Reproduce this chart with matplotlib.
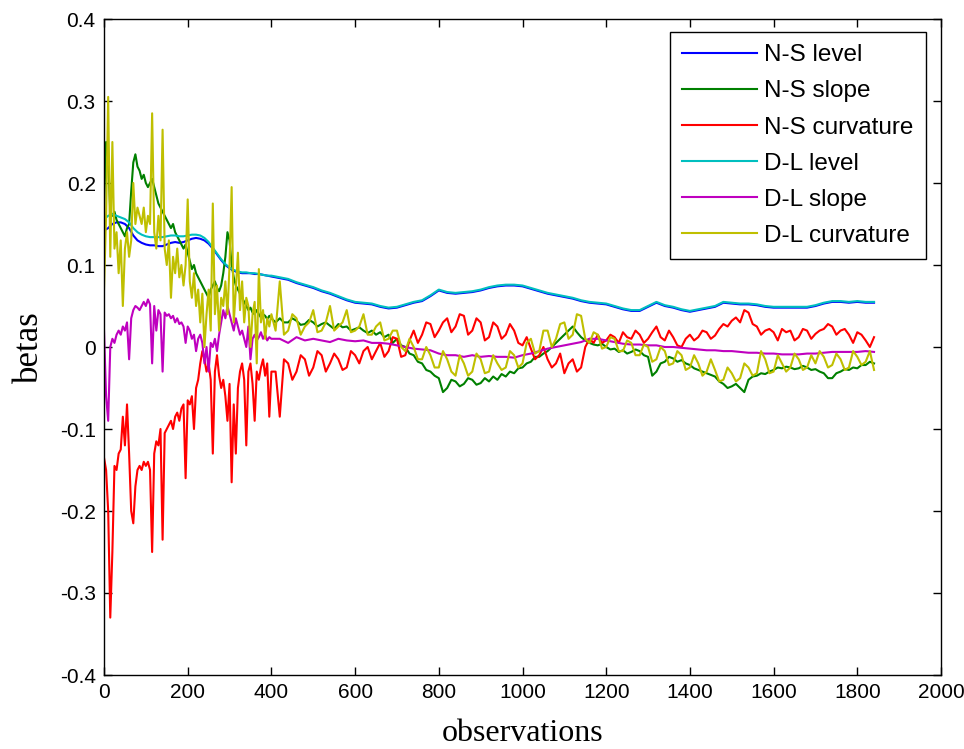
import numpy as np
import matplotlib
matplotlib.use("Agg")
import matplotlib.pyplot as plt

# =====================
# DATA
# =====================

# observation grids
obs_level = np.concatenate([np.arange(0, 401, 10), np.arange(420, 1841, 20)])
obs_slope = np.concatenate([np.arange(0, 401, 5), np.arange(420, 1841, 20)])
obs_noisy = np.concatenate([np.arange(0, 401, 5), np.arange(410, 1841, 10)])

ns_level = [
    0.142, 0.145, 0.150, 0.152, 0.152, 0.150, 0.145, 0.136, 0.130, 0.127,
    0.125, 0.124, 0.124, 0.123, 0.123, 0.125, 0.127, 0.128, 0.127, 0.128,
    0.130, 0.132, 0.133, 0.132, 0.130, 0.126, 0.120, 0.113, 0.106, 0.100,
    0.096, 0.093, 0.091, 0.090, 0.090, 0.090, 0.089, 0.089, 0.088, 0.087,
    0.086,
    0.084, 0.082, 0.078, 0.075, 0.072, 0.068, 0.065, 0.061, 0.057, 0.054,
    0.053, 0.052, 0.049, 0.047, 0.048, 0.051, 0.054, 0.056, 0.062, 0.069,
    0.066, 0.065, 0.066, 0.067, 0.069, 0.072, 0.074, 0.075, 0.075, 0.074,
    0.071, 0.068, 0.065, 0.063, 0.061, 0.059, 0.056, 0.054, 0.053, 0.052,
    0.049, 0.046, 0.044, 0.044, 0.049, 0.054, 0.050, 0.048, 0.045, 0.043,
    0.045, 0.047, 0.049, 0.054, 0.053, 0.052, 0.052, 0.051, 0.049, 0.048,
    0.048, 0.048, 0.048, 0.048, 0.050, 0.053, 0.055, 0.055, 0.054, 0.055,
    0.054, 0.054,
]

dl_level = [
    0.156, 0.160, 0.162, 0.160, 0.158, 0.156, 0.152, 0.145, 0.140, 0.137,
    0.135, 0.134, 0.134, 0.134, 0.134, 0.135, 0.136, 0.136, 0.135, 0.135,
    0.136, 0.137, 0.137, 0.136, 0.133, 0.128, 0.121, 0.114, 0.107, 0.101,
    0.097, 0.094, 0.092, 0.091, 0.091, 0.090, 0.090, 0.089, 0.088, 0.087,
    0.087,
    0.085, 0.083, 0.079, 0.076, 0.073, 0.069, 0.066, 0.062, 0.058, 0.055,
    0.054, 0.053, 0.050, 0.048, 0.049, 0.052, 0.055, 0.057, 0.063, 0.070,
    0.067, 0.066, 0.067, 0.068, 0.070, 0.073, 0.075, 0.076, 0.076, 0.075,
    0.072, 0.069, 0.066, 0.064, 0.062, 0.060, 0.057, 0.055, 0.054, 0.053,
    0.050, 0.047, 0.045, 0.045, 0.050, 0.055, 0.051, 0.049, 0.046, 0.044,
    0.046, 0.048, 0.050, 0.055, 0.054, 0.053, 0.053, 0.052, 0.050, 0.049,
    0.049, 0.049, 0.049, 0.049, 0.051, 0.054, 0.056, 0.056, 0.055, 0.056,
    0.055, 0.055,
]

ns_slope = [
    # 0 .. 400, every 5
    0.170, 0.250, 0.230, 0.165, 0.160, 0.165, 0.155, 0.150, 0.145, 0.140,
    0.135, 0.145, 0.150, 0.190, 0.225, 0.235, 0.220, 0.215, 0.205, 0.210,
    0.200, 0.195, 0.200, 0.205, 0.195, 0.185, 0.175, 0.170, 0.165, 0.160,
    0.155, 0.150, 0.145, 0.150, 0.140, 0.135, 0.130, 0.125, 0.120, 0.125,
    0.115, 0.105, 0.095, 0.100, 0.090, 0.085, 0.080, 0.075, 0.070, 0.065,
    0.060, 0.070, 0.075, 0.080, 0.072, 0.068, 0.075, 0.090, 0.110, 0.140,
    0.130, 0.100, 0.085, 0.075, 0.070, 0.065, 0.060, 0.055, 0.050, 0.045,
    0.048, 0.042, 0.040, 0.045, 0.040, 0.036, 0.040, 0.038, 0.034, 0.038,
    0.035,
    # 410 .. 1840, every 10
    0.030, 0.035, 0.030, 0.030, 0.035, 0.032, 0.027, 0.028, 0.033, 0.030,
    0.025, 0.028, 0.030, 0.026, 0.022, 0.028, 0.024, 0.025, 0.020, 0.022,
    0.024, 0.020, 0.017, 0.020, 0.015, 0.018, 0.012, 0.015, 0.005, 0.010,
    0.002, 0.000, -0.008, -0.010, -0.018, -0.020, -0.028, -0.030, -0.035, -0.038,
    -0.055, -0.050, -0.040, -0.042, -0.048, -0.045, -0.038, -0.040, -0.046, -0.044,
    -0.038, -0.042, -0.036, -0.040, -0.033, -0.036, -0.030, -0.032, -0.026, -0.025,
    -0.020, -0.018, -0.012, -0.012, -0.008, -0.005, 0.000, 0.005, 0.010, 0.015,
    0.020, 0.025, 0.018, 0.012, 0.008, 0.005, 0.003, 0.002, 0.004, 0.000,
    -0.003, -0.002, -0.006, -0.004, -0.008, -0.006, -0.003, -0.005, -0.010, -0.012,
    -0.035, -0.030, -0.020, -0.018, -0.012, -0.014, -0.018, -0.016, -0.020, -0.022,
    -0.026, -0.028, -0.030, -0.032, -0.034, -0.036, -0.042, -0.045, -0.050, -0.048,
    -0.045, -0.050, -0.055, -0.040, -0.036, -0.035, -0.032, -0.033, -0.030, -0.028,
    -0.025, -0.026, -0.024, -0.025, -0.027, -0.026, -0.023, -0.025, -0.028, -0.027,
    -0.030, -0.032, -0.038, -0.038, -0.032, -0.030, -0.027, -0.028, -0.025, -0.026,
    -0.022, -0.022, -0.018, -0.020,
]

ns_curv = [
    # 0 .. 400, every 5
    -0.135, -0.150, -0.200, -0.330, -0.250, -0.145, -0.150, -0.130, -0.125, -0.085,
    -0.120, -0.070, -0.130, -0.200, -0.215, -0.170, -0.150, -0.145, -0.150, -0.140,
    -0.145, -0.140, -0.150, -0.250, -0.130, -0.115, -0.120, -0.100, -0.235, -0.105,
    -0.100, -0.095, -0.090, -0.100, -0.085, -0.080, -0.090, -0.075, -0.070, -0.160,
    -0.065, -0.070, -0.060, -0.100, -0.050, -0.040, -0.020, -0.005, -0.015, -0.030,
    -0.020, -0.040, -0.130, -0.030, -0.010, -0.035, -0.050, -0.040, -0.060, -0.090,
    -0.045, -0.165, -0.070, -0.130, -0.050, -0.030, -0.020, -0.040, -0.120, -0.030,
    -0.020, -0.045, -0.090, -0.030, -0.040, -0.025, -0.015, -0.035, -0.020, -0.085,
    -0.030,
    # 410 .. 1840, every 10
    -0.030, -0.085, -0.015, -0.020, -0.040, -0.030, -0.010, -0.015, -0.035, -0.025,
    -0.005, -0.010, -0.030, -0.020, -0.008, -0.015, -0.028, -0.025, -0.005, -0.010,
    -0.020, -0.005, 0.000, -0.015, -0.005, 0.005, -0.012, -0.005, 0.012, 0.010,
    -0.012, -0.010, 0.008, 0.020, 0.005, 0.015, 0.030, 0.028, 0.012, 0.020,
    0.030, 0.035, 0.018, 0.025, 0.040, 0.038, 0.015, 0.020, 0.035, 0.030,
    0.008, 0.012, 0.030, 0.025, 0.010, 0.015, 0.028, 0.020, 0.005, 0.002,
    0.012, -0.002, -0.015, -0.010, 0.000, -0.015, -0.025, -0.020, -0.008, -0.032,
    -0.020, -0.015, -0.030, -0.025, 0.000, 0.010, 0.005, 0.015, 0.005, 0.008,
    0.015, 0.012, 0.005, 0.018, 0.012, 0.010, 0.020, 0.015, 0.005, 0.010,
    0.018, 0.025, 0.012, 0.008, 0.020, 0.012, 0.002, 0.000, 0.010, 0.015,
    0.008, 0.012, 0.020, 0.018, 0.010, 0.014, 0.022, 0.028, 0.025, 0.032,
    0.036, 0.030, 0.045, 0.042, 0.028, 0.025, 0.015, 0.020, 0.022, 0.018,
    0.008, 0.022, 0.018, 0.020, 0.008, 0.012, 0.022, 0.020, 0.010, 0.016,
    0.020, 0.022, 0.028, 0.025, 0.015, 0.020, 0.022, 0.015, 0.005, 0.018,
    0.015, 0.008, 0.000, 0.012,
]

dl_slope = [
    # 0 .. 400, every 5
    0.020, -0.060, -0.090, 0.000, 0.010, 0.005, 0.015, 0.020, 0.015, 0.025,
    0.020, 0.030, -0.015, 0.035, 0.045, 0.050, 0.048, 0.045, 0.050, 0.055,
    0.050, 0.058, 0.052, -0.020, 0.050, 0.020, 0.045, 0.040, -0.030, 0.042,
    0.038, 0.040, 0.035, 0.038, 0.030, 0.035, 0.028, 0.030, 0.025, 0.005,
    0.025, 0.020, 0.010, 0.015, -0.005, 0.010, 0.015, 0.005, -0.020, 0.000,
    -0.030, 0.005, 0.000, 0.010, -0.005, 0.015, 0.030, 0.045, 0.035, 0.050,
    0.040, 0.030, 0.020, 0.035, 0.025, 0.015, 0.020, 0.010, 0.000, 0.025,
    -0.015, 0.010, 0.015, 0.008, 0.012, 0.018, 0.010, 0.015, 0.008, 0.012,
    0.010,
    # 420 .. 1840, every 20
    0.010, 0.005, 0.012, 0.008, 0.010, 0.008, 0.006, 0.010, 0.008, 0.007,
    0.008, 0.005, 0.005, 0.004, 0.002, 0.000, -0.002, -0.003, -0.004, -0.008,
    -0.010, -0.010, -0.012, -0.010, -0.012, -0.011, -0.012, -0.012, -0.013, -0.010,
    -0.008, -0.005, -0.002, 0.000, 0.002, 0.004, 0.006, 0.010, 0.010, 0.008,
    0.006, 0.004, 0.003, 0.003, 0.002, 0.002, 0.000, 0.000, -0.001, -0.002,
    -0.003, -0.004, -0.004, -0.005, -0.005, -0.006, -0.007, -0.007, -0.008, -0.008,
    -0.009, -0.009, -0.009, -0.008, -0.008, -0.007, -0.006, -0.006, -0.006, -0.006,
    -0.005, -0.006,
]

dl_curv = [
    # 0 .. 400, every 5
    0.070, 0.160, 0.305, 0.110, 0.250, 0.120, 0.140, 0.090, 0.130, 0.050,
    0.120, 0.140, 0.110, 0.130, 0.200, 0.150, 0.170, 0.160, 0.150, 0.170,
    0.140, 0.160, 0.150, 0.285, 0.140, 0.120, 0.160, 0.130, 0.265, 0.120,
    0.100, 0.130, 0.060, 0.110, 0.090, 0.120, 0.085, 0.100, 0.075, 0.100,
    0.180, 0.080, 0.060, 0.090, 0.050, 0.070, 0.030, 0.065, 0.000, 0.040,
    0.070, 0.020, 0.175, 0.040, 0.075, 0.020, 0.060, 0.050, 0.080, 0.040,
    0.100, 0.195, 0.030, 0.070, 0.115, 0.045, 0.080, 0.030, 0.060, 0.050,
    0.000, 0.040, 0.055, -0.020, 0.095, 0.030, 0.045, 0.010, 0.035, 0.025,
    0.040,
    # 410 .. 1840, every 10
    0.020, 0.080, 0.015, 0.020, 0.040, 0.035, 0.015, 0.025, 0.030, 0.045,
    0.018, 0.020, 0.030, 0.050, 0.020, 0.025, 0.030, 0.045, 0.018, 0.020,
    0.025, 0.040, 0.015, 0.015, 0.025, 0.030, 0.008, 0.010, 0.020, 0.020,
    0.000, -0.005, 0.010, 0.000, -0.015, -0.015, 0.000, -0.010, -0.025, -0.025,
    -0.005, -0.015, -0.030, -0.035, -0.010, -0.020, -0.035, -0.030, -0.008, -0.015,
    -0.032, -0.030, -0.010, -0.020, -0.028, -0.025, -0.005, -0.010, -0.025, -0.020,
    0.005, 0.010, -0.008, -0.005, 0.020, 0.020, 0.000, 0.010, 0.028, 0.030,
    0.010, 0.015, 0.040, 0.038, 0.010, 0.005, 0.018, 0.015, -0.002, 0.000,
    0.012, 0.010, -0.005, -0.005, 0.008, 0.005, -0.010, -0.010, 0.003, 0.000,
    -0.018, -0.015, 0.000, -0.005, -0.022, -0.020, -0.005, -0.010, -0.028, -0.025,
    -0.010, -0.020, -0.035, -0.030, -0.015, -0.028, -0.042, -0.040, -0.025, -0.032,
    -0.042, -0.038, -0.020, -0.025, -0.035, -0.032, -0.005, -0.015, -0.032, -0.030,
    -0.010, -0.020, -0.030, -0.025, -0.008, -0.015, -0.028, -0.025, -0.010, -0.020,
    -0.005, -0.012, -0.025, -0.022, -0.008, -0.015, -0.028, -0.025, -0.005, -0.012,
    -0.022, -0.018, -0.005, -0.028,
]

labels = ["N-S level", "N-S slope", "N-S curvature",
          "D-L level", "D-L slope", "D-L curvature"]
colors = ["#0000ff", "#008000", "#ff0000", "#00bfbf", "#bf00bf", "#bfbf00"]

# =====================
# PLOT
# =====================

tick_font = ["Liberation Sans", "DejaVu Sans"]
label_font = ["Liberation Serif", "DejaVu Serif"]

fig = plt.figure(figsize=(9.64, 7.49), dpi=100)
ax = fig.add_axes([104 / 964, 1 - 675 / 749, 837 / 964, 656 / 749])

series = [
    (obs_level, ns_level),
    (obs_noisy, ns_slope),
    (obs_noisy, ns_curv),
    (obs_level, dl_level),
    (obs_slope, dl_slope),
    (obs_noisy, dl_curv),
]
for (xx, yy), lab, col in zip(series, labels, colors):
    ax.plot(xx, yy, color=col, linewidth=1.5, label=lab)

ax.set_xlim(0, 2000)
ax.set_ylim(-0.4, 0.4)
ax.set_xticks(np.arange(0, 2001, 200))
ax.set_yticks(np.round(np.arange(-0.4, 0.41, 0.1), 1))
ax.set_yticklabels(["-0.4", "-0.3", "-0.2", "-0.1", "0",
                    "0.1", "0.2", "0.3", "0.4"])

ax.tick_params(direction="in", length=6, width=1, top=True, right=True,
               labelsize=15, pad=6)
for lbl in ax.get_xticklabels() + ax.get_yticklabels():
    lbl.set_family(tick_font)
for sp in ax.spines.values():
    sp.set_linewidth(1)

ax.set_xlabel("observations", family=label_font, fontsize=23, labelpad=12)
ax.set_ylabel("betas", family=label_font, fontsize=25, labelpad=10)

leg = ax.legend(loc="upper right", bbox_to_anchor=(0.982, 0.980),
                borderaxespad=0, fancybox=False, framealpha=1,
                edgecolor="black", prop={"family": "Liberation Sans", "size": 17.5},
                handlelength=3.1, handletextpad=0.3, labelspacing=0.58,
                borderpad=0.5)
leg.get_frame().set_linewidth(1)

fig.savefig("out.png", dpi=100)
